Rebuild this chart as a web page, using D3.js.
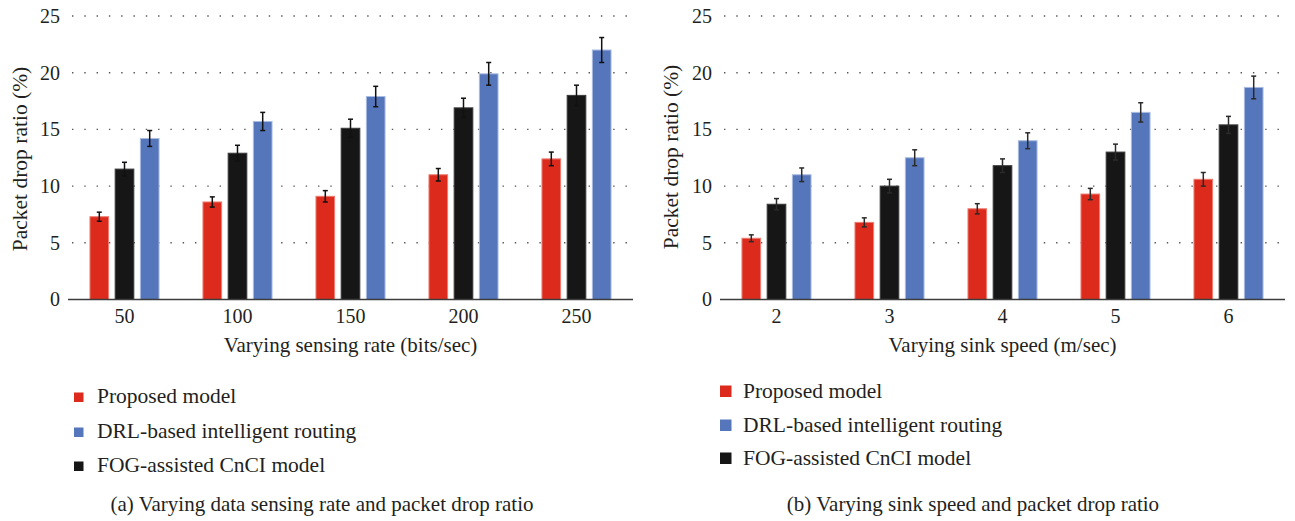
<!DOCTYPE html>
<html>
<head>
<meta charset="utf-8">
<script src="https://cdn.jsdelivr.net/npm/d3@7"></script>
<style>
  html, body { margin: 0; padding: 0; background: #fff; }
  svg text { font-family: "Liberation Serif", "Times New Roman", serif; fill: #231f20; }
</style>
</head>
<body>
<svg id="chart" width="1295" height="521"></svg>
<script>
// Categories
const sensingRates = ["50", "100", "150", "200", "250"];
const sinkSpeeds = ["2", "3", "4", "5", "6"];
const yTicks = [0, 5, 10, 15, 20, 25];

// Series (bar order within a group)
const seriesKeys = ["proposed", "fog", "drl"];
const seriesLabels = {
  proposed: "Proposed model",
  drl: "DRL-based intelligent routing",
  fog: "FOG-assisted CnCI model"
};
const legendOrder = ["proposed", "drl", "fog"];
const seriesColors = { proposed: "#dc2b1c", fog: "#161616", drl: "#5576bb" };
const seriesEdges = { proposed: "#ec7d72", fog: "#3a3a3a", drl: "#a9bbe0" };

// (a) Packet drop ratio (%) vs sensing rate
const rateProposed = [7.3, 8.6, 9.1, 11.0, 12.4];
const rateFog = [11.5, 12.9, 15.1, 16.9, 18.0];
const rateDrl = [14.2, 15.7, 17.9, 19.9, 22.0];
const rateProposedErr = [0.4, 0.45, 0.5, 0.55, 0.6];
const rateFogErr = [0.6, 0.7, 0.8, 0.85, 0.9];
const rateDrlErr = [0.7, 0.8, 0.9, 1.0, 1.1];

// (b) Packet drop ratio (%) vs sink speed
const speedProposed = [5.4, 6.8, 8.0, 9.3, 10.6];
const speedFog = [8.4, 10.0, 11.8, 13.0, 15.4];
const speedDrl = [11.0, 12.5, 14.0, 16.5, 18.7];
const speedProposedErr = [0.3, 0.4, 0.45, 0.5, 0.6];
const speedFogErr = [0.5, 0.6, 0.6, 0.7, 0.75];
const speedDrlErr = [0.6, 0.7, 0.7, 0.85, 1.0];

const svg = d3.select("#chart");

function buildRows(cats, vals, errs) {
  return cats.map((c, i) => ({
    cat: c,
    bars: seriesKeys.map(k => ({ key: k, value: vals[k][i], err: errs[k][i] }))
  }));
}

function drawPanel(opt) {
  const g = svg.append("g");
  const x0 = d3.scaleBand().domain(opt.cats).range([opt.left, opt.right])
    .paddingInner(0.38).paddingOuter(0.19);
  const x1 = d3.scaleBand().domain(seriesKeys).range([0, x0.bandwidth()])
    .paddingInner(0.22);
  const y = d3.scaleLinear().domain([0, 25]).range([299.5, 16]);

  // dotted grid lines
  g.append("g").selectAll("line").data(yTicks.filter(t => t > 0)).join("line")
    .attr("x1", opt.left + 4).attr("x2", opt.right)
    .attr("y1", d => y(d)).attr("y2", d => y(d))
    .attr("stroke", "#555").attr("stroke-width", 1.4)
    .attr("stroke-dasharray", "1.4 10.9");

  // y tick labels
  const yAxis = g.append("g").attr("transform", `translate(${opt.left},0)`)
    .call(d3.axisLeft(y).tickValues(yTicks).tickSize(0).tickPadding(opt.left - opt.tickEdge));
  yAxis.select(".domain").remove();
  yAxis.selectAll("text").attr("font-size", 20).attr("fill", "#231f20")
    .style("font-family", "Liberation Serif, serif");

  const rows = buildRows(opt.cats, opt.vals, opt.errs);
  const groups = g.append("g").selectAll("g").data(rows).join("g")
    .attr("transform", d => `translate(${x0(d.cat)},0)`);

  groups.selectAll("rect").data(d => d.bars).join("rect")
    .attr("x", d => x1(d.key) + 0.5)
    .attr("width", x1.bandwidth() - 1)
    .attr("y", d => y(d.value))
    .attr("height", d => y(0) - y(d.value))
    .attr("fill", d => seriesColors[d.key])
    .attr("stroke", d => seriesEdges[d.key])
    .attr("stroke-width", 1);

  // error bars
  const eb = groups.selectAll("g.err").data(d => d.bars).join("g").attr("class", "err")
    .attr("transform", d => `translate(${x1(d.key) + x1.bandwidth() / 2},0)`);
  eb.append("line")
    .attr("y1", d => y(d.value + d.err)).attr("y2", d => y(d.value - d.err))
    .attr("stroke", opt.errColor).attr("stroke-width", 1.5);
  eb.append("line")
    .attr("x1", -2.5).attr("x2", 2.5)
    .attr("y1", d => y(d.value + d.err)).attr("y2", d => y(d.value + d.err))
    .attr("stroke", opt.errColor).attr("stroke-width", 1.5);
  eb.append("line")
    .attr("x1", -2.5).attr("x2", 2.5)
    .attr("y1", d => y(d.value - d.err)).attr("y2", d => y(d.value - d.err))
    .attr("stroke", opt.errColor).attr("stroke-width", 1.5);

  // baseline
  g.append("line").attr("x1", opt.left).attr("x2", opt.right)
    .attr("y1", y(0)).attr("y2", y(0))
    .attr("stroke", "#3c3c3c").attr("stroke-width", 1.6);

  // x tick labels
  const xAxis = g.append("g").attr("transform", `translate(0,${y(0)})`)
    .call(d3.axisBottom(x0).tickSize(0).tickPadding(0));
  xAxis.select(".domain").remove();
  xAxis.selectAll("text").attr("font-size", 20).attr("dy", null).attr("y", 23.8)
    .attr("fill", "#231f20").style("font-family", "Liberation Serif, serif");

  // axis titles
  g.append("text").attr("x", (opt.left + opt.right) / 2).attr("y", 352)
    .attr("text-anchor", "middle").attr("font-size", 21).text(opt.xTitle);
  g.append("text")
    .attr("transform", `translate(${opt.yTitleX},${opt.yTitleY}) rotate(-90)`)
    .attr("text-anchor", "middle").attr("font-size", 21.5).text("Packet drop ratio (%)");

  // legend
  const lg = g.append("g").selectAll("g").data(legendOrder).join("g")
    .attr("transform", (d, i) => `translate(0,${opt.legendBase[i]})`);
  lg.append("rect").attr("x", opt.legendX).attr("y", -opt.swatch - 1)
    .attr("width", opt.swatch).attr("height", opt.swatch)
    .attr("fill", d => seriesColors[d]);
  lg.append("text").attr("x", opt.legendTextX).attr("y", 0)
    .attr("font-size", 21.5).text(d => seriesLabels[d]);

  // caption
  g.append("text").attr("x", opt.captionX).attr("y", 511)
    .attr("text-anchor", "middle").attr("font-size", 21).text(opt.caption);
}

drawPanel({
  cats: sensingRates,
  vals: { proposed: rateProposed, fog: rateFog, drl: rateDrl },
  errs: { proposed: rateProposedErr, fog: rateFogErr, drl: rateDrlErr },
  left: 68, right: 633, tickEdge: 60,
  errColor: "#111",
  xTitle: "Varying sensing rate (bits/sec)",
  yTitleX: 27, yTitleY: 159,
  legendX: 74, legendTextX: 97, swatch: 9.5, legendBase: [403, 438, 472],
  captionX: 322, caption: "(a) Varying data sensing rate and packet drop ratio"
});

drawPanel({
  cats: sinkSpeeds,
  vals: { proposed: speedProposed, fog: speedFog, drl: speedDrl },
  errs: { proposed: speedProposedErr, fog: speedFogErr, drl: speedDrlErr },
  left: 720, right: 1285, tickEdge: 712,
  errColor: "#2a2a2a",
  xTitle: "Varying sink speed (m/sec)",
  yTitleX: 678, yTitleY: 157,
  legendX: 720, legendTextX: 743, swatch: 11.5, legendBase: [398, 432, 465],
  captionX: 973, caption: "(b) Varying sink speed and packet drop ratio"
});
</script>
</body>
</html>
